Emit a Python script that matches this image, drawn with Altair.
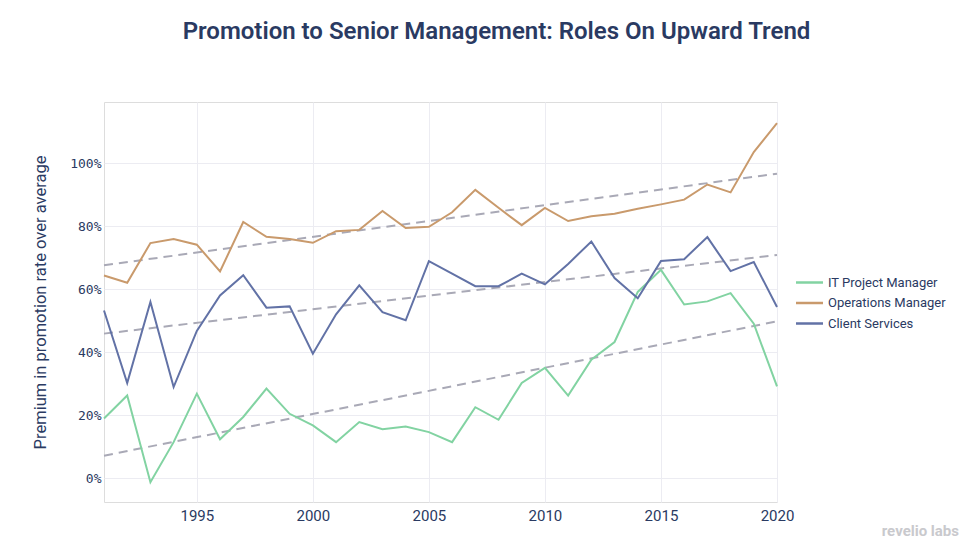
import altair as alt
import pandas as pd

years = list(range(1991, 2021))
it_pm = [19.0, 26.3, -1.2, 11.5, 26.9, 12.4, 19.5, 28.5, 20.5, 16.8,
         11.5, 17.9, 15.6, 16.5, 14.7, 11.5, 22.6, 18.6, 30.3, 35.1,
         26.3, 37.7, 43.3, 59.2, 66.2, 55.2, 56.2, 58.8, 49.1, 29.2]
ops_mgr = [64.4, 62.1, 74.7, 76.0, 74.2, 65.7, 81.4, 76.7, 76.0, 74.8,
           78.5, 78.9, 84.9, 79.5, 79.9, 84.5, 91.6, 85.9, 80.4, 85.9,
           81.7, 83.2, 84.0, 85.6, 87.0, 88.5, 93.3, 90.8, 103.6, 112.8]
client_svc = [53.3, 30.3, 56.0, 29.0, 46.8, 58.1, 64.5, 54.2, 54.6, 39.6,
              52.1, 61.3, 52.8, 50.2, 69.0, 65.0, 61.0, 61.0, 65.0, 61.6,
              68.1, 75.2, 63.6, 57.2, 69.0, 69.6, 76.6, 65.8, 68.7, 54.4]

series_names = ["IT Project Manager", "Operations Manager", "Client Services"]
series_colors = ["#82d3a2", "#c99a6c", "#6272a6"]
x_ticks = [1995, 2000, 2005, 2010, 2015, 2020]
y_ticks = [0, 20, 40, 60, 80, 100]

rows = []
for name, vals in zip(series_names, [it_pm, ops_mgr, client_svc]):
    for y, v in zip(years, vals):
        rows.append({"year": y, "value": v, "series": name})
df = pd.DataFrame(rows)

navy = "#2a3a62"

x_enc = alt.X("year:Q", scale=alt.Scale(domain=[1991, 2020], nice=False, zero=False),
              axis=alt.Axis(values=x_ticks, format="d", title=None, grid=True,
                            gridColor="#ececf2", domain=False, ticks=False,
                            labelFont="Roboto", labelFontSize=15, labelColor=navy,
                            labelPadding=6, labelFlush=False))
y_enc = alt.Y("value:Q", scale=alt.Scale(domain=[-7.5, 119.5], nice=False, zero=False),
              axis=alt.Axis(values=y_ticks, labelExpr="datum.value + '%'",
                            title="Premium in promotion rate over average",
                            titleFont="Roboto", titleFontSize=16.5, titleFontWeight="normal",
                            titleColor=navy, titlePadding=21,
                            grid=True, gridColor="#ececf2", domain=False, ticks=False,
                            labelFont="DejaVu Sans Mono", labelFontSize=13,
                            labelColor=navy, labelPadding=3, labelFlush=False))

base = alt.Chart(df)

trend = base.transform_regression(
    "year", "value", groupby=["series"], extent=[1991, 2020]
).mark_line(color="#a9a9b6", strokeWidth=2, strokeDash=[9, 6]).encode(
    x=x_enc, y=y_enc, detail="series:N"
)

lines = base.mark_line(strokeWidth=2).encode(
    x=x_enc, y=y_enc,
    color=alt.Color("series:N",
                    scale=alt.Scale(domain=series_names, range=series_colors),
                    sort=series_names,
                    legend=alt.Legend(title=None, orient="none", legendX=694, legendY=169,
                                      symbolType="M-1.35,0H1.35", symbolStrokeWidth=2.5,
                                      symbolSize=400, labelFont="Roboto",
                                      labelFontSize=13, labelColor=navy,
                                      rowPadding=1.5, labelOffset=7)),
)

watermark = alt.Chart(pd.DataFrame({"t": ["revelio labs"]})).mark_text(
    align="right", baseline="alphabetic", font="Roboto", fontSize=15,
    fontWeight="bold", color="#c9c9cd"
).encode(x=alt.value(855), y=alt.value(434), text="t:N")

chart = alt.layer(trend, lines, watermark).properties(
    width=673, height=400,
    title=alt.TitleParams("Promotion to Senior Management: Roles On Upward Trend",
                          font="Roboto", fontSize=24, fontWeight=600, color=navy,
                          anchor="middle", dx=56, offset=58),
    autosize=alt.AutoSizeParams(type="none"),
    padding={"left": 96, "top": 94, "right": 184, "bottom": 40},
).configure_view(stroke=None).configure(background="white")

chart.save("out.html", embed_options={"renderer": "svg", "actions": False})
